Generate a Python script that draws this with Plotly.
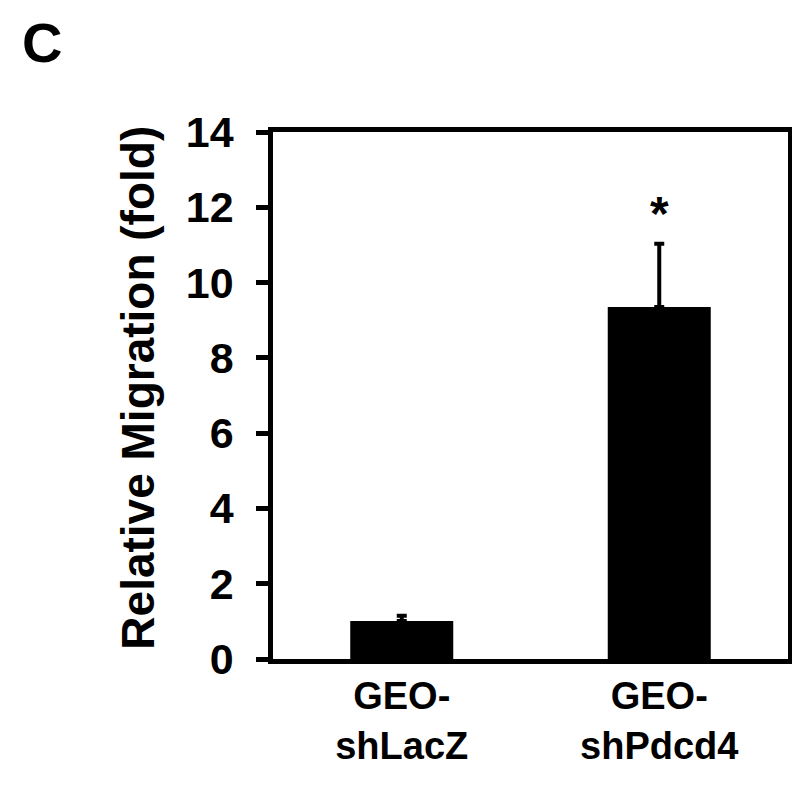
import plotly.graph_objects as go

# values
groups = ["GEO-<br>shLacZ", "GEO-<br>shPdcd4"]
migration = [1.01, 9.35]
err_up = [0.14, 1.68]
stars = ["", "*"]
y_ticks = [0, 2, 4, 6, 8, 10, 12, 14]

fig = go.Figure()
fig.add_trace(go.Bar(
    x=groups,
    y=migration,
    marker=dict(color="black", line=dict(width=0)),
    error_y=dict(type="data", array=err_up, arrayminus=[0, 0], symmetric=False,
                 color="black", thickness=4, width=5),
    width=0.4,
))

for g, v, e, s in zip(groups, migration, err_up, stars):
    if s:
        fig.add_annotation(x=g, y=v + e, text=s, showarrow=False, yanchor="bottom",
                           yshift=2, font=dict(family="Liberation Sans, Arial", size=48,
                                               color="black", weight="bold"))

fig.add_annotation(xref="paper", yref="paper", x=-0.262, y=0.515, text="Relative Migration (fold)",
                   textangle=-90, showarrow=False, xanchor="center", yanchor="middle",
                   font=dict(family="Liberation Sans, Arial", size=46, color="black", weight="bold"))
# panel letter
fig.add_annotation(xref="paper", yref="paper", x=-0.49, y=1.232, text="C", showarrow=False,
                   xanchor="left", yanchor="top", borderpad=0,
                   font=dict(family="Liberation Sans, Arial", size=56, color="black", weight="bold"))

fig.update_layout(
    width=800, height=785,
    margin=dict(l=265, r=20, t=124, b=134),
    plot_bgcolor="white", paper_bgcolor="white",
    showlegend=False,
    xaxis=dict(showline=True, linecolor="black", linewidth=4.5, mirror=True, ticks="",
               showgrid=False, zeroline=False, range=[-0.5, 1.5],
               tickfont=dict(family="Liberation Sans, Arial", size=38, color="black", weight="bold")),
    yaxis=dict(showline=True, linecolor="black", linewidth=4.5, mirror=True, ticks="outside",
               ticklen=12, tickwidth=4.5, tickcolor="black", showgrid=False, zeroline=False,
               range=[0, 14], tickvals=y_ticks, ticklabelstandoff=14,
               tickfont=dict(family="Liberation Sans, Arial", size=43,
                             color="black", weight="bold")),
)

fig.write_html("out.html")
